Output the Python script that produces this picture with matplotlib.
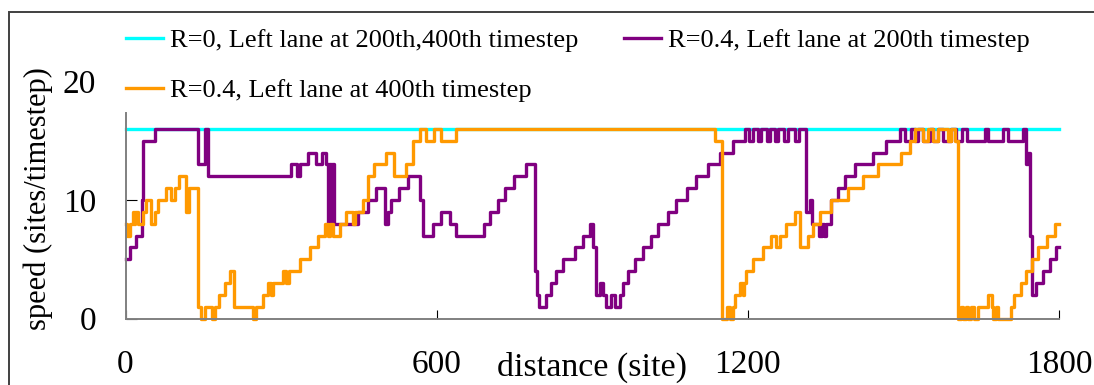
import matplotlib
matplotlib.use("Agg")
import matplotlib.pyplot as plt
from matplotlib.patches import Rectangle

plt.rcParams["font.family"] = ["Liberation Serif", "DejaVu Serif"]

# speed profiles along the road (site -> speed), step changes
cyan_x = [0, 1800]
cyan_v = [16, 16]

purple_x = [0, 8, 21, 32, 34, 56, 140, 154, 159, 320, 331, 336, 352, 368, 379,
            387, 390, 393, 396, 399, 402, 448, 467, 483, 500, 506, 512, 528, 545,
            567, 573, 593, 609, 625, 638, 692, 702, 718, 731, 750, 773, 789, 794,
            798, 811, 821, 830, 843, 866, 882, 895, 902, 908, 915, 921, 927, 937,
            943, 953, 960, 969, 982, 998, 1014, 1027, 1046, 1062, 1082, 1101, 1123,
            1146, 1172, 1194, 1203, 1210, 1219, 1226, 1236, 1243, 1252, 1259, 1270,
            1277, 1290, 1298, 1313, 1319, 1323, 1337, 1343, 1347, 1351, 1361, 1374,
            1387, 1406, 1441, 1467, 1493, 1503, 1515, 1522, 1528, 1538, 1551, 1557,
            1567, 1576, 1592, 1602, 1612, 1622, 1657, 1663, 1692, 1702, 1731, 1737,
            1740, 1744, 1748, 1756, 1769, 1782, 1795, 1800]
purple_v = [5, 6, 7, 10, 15, 16, 13, 16, 12, 13, 12, 13, 14, 13, 14,
            13, 8, 13, 8, 13, 8, 9, 10, 11, 8, 9, 10, 11, 12,
            10, 7, 8, 9, 8, 7, 8, 9, 10, 11, 12, 13, 4, 2,
            1, 2, 3, 4, 5, 6, 7, 8, 6, 2, 3, 2, 1, 2,
            1, 2, 3, 4, 5, 6, 7, 8, 9, 10, 11, 12, 13,
            14, 15, 16, 15, 16, 15, 16, 15, 16, 15, 16, 15,
            16, 15, 16, 9, 10, 8, 7, 8, 7, 8, 10, 11,
            12, 13, 14, 15, 16, 15, 16, 15, 16, 15, 16, 15,
            16, 15, 16, 15, 16, 15, 16, 15, 16, 15, 16, 13,
            14, 7, 2, 3, 4, 5, 6, 6]

orange_x = [0, 2, 8, 14, 16, 19, 24, 34, 40, 50, 56, 63, 79, 88, 95, 104, 117,
            122, 140, 146, 153, 166, 172, 181, 191, 201, 210, 246, 252, 265, 275,
            281, 284, 304, 310, 315, 336, 355, 371, 384, 390, 395, 400, 413, 426,
            439, 443, 458, 467, 480, 503, 518, 541, 554, 567, 580, 595, 608, 638,
            1136, 1150, 1159, 1165, 1171, 1175, 1184, 1190, 1192, 1197, 1210, 1229,
            1245, 1254, 1262, 1274, 1290, 1300, 1316, 1326, 1339, 1361, 1393, 1422,
            1451, 1496, 1512, 1522, 1538, 1547, 1557, 1567, 1586, 1592, 1599, 1605,
            1611, 1615, 1620, 1625, 1631, 1637, 1644, 1663, 1670, 1673, 1678, 1682,
            1708, 1714, 1727, 1737, 1747, 1760, 1776, 1792, 1800]
orange_v = [8, 7, 8, 9, 8, 9, 8, 9, 10, 8, 9, 10, 11, 10, 11, 12, 9,
            11, 1, 0, 1, 0, 1, 2, 3, 4, 1, 0, 1, 2, 3,
            2, 3, 4, 3, 4, 5, 6, 7, 8, 7, 8, 7, 8, 9,
            8, 9, 10, 12, 13, 14, 12, 13, 15, 16, 15, 16, 15, 16,
            15, 0, 1, 0, 1, 2, 3, 2, 3, 4, 5, 6,
            7, 6, 7, 8, 9, 6, 7, 8, 9, 10, 11, 12,
            13, 14, 15, 16, 15, 16, 15, 16, 15, 16, 15, 0,
            1, 0, 1, 0, 1, 0, 1, 2, 1, 0, 1, 0,
            1, 2, 3, 4, 5, 6, 7, 8, 8]

labels = ["R=0, Left lane at 200th,400th timestep",
          "R=0.4, Left lane at 200th timestep",
          "R=0.4, Left lane at 400th timestep"]

W, H = 1094, 385
fig = plt.figure(figsize=(W / 100, H / 100), dpi=100)

# outer chart border (runs off the right and bottom edges)
fig.patches.append(Rectangle((9 / W, -0.1), 1.2, 1 - 12 / H + 0.1,
                             transform=fig.transFigure, fill=False,
                             edgecolor="#404040", linewidth=1.4))

x0, x1 = 125.5, 1059
y0, y20 = 318.5, 81.5
ax = fig.add_axes([x0 / W, 1 - y0 / H, (x1 - x0) / W, (y0 - y20) / H])

kw = dict(drawstyle="steps-post", linewidth=2.4, clip_on=False)
l_c, = ax.plot(cyan_x, cyan_v, color="#00FFFF", **kw)
l_p, = ax.plot(purple_x, purple_v, color="#800080", **kw)
l_o, = ax.plot(orange_x, orange_v, color="#FF9900", **kw)

ax.set_xlim(0, 1800)
ax.set_ylim(0, 20)
ax.set_xticks([0, 600, 1200, 1800])
ax.set_yticks([0, 10, 20])

for side in ["top", "right"]:
    ax.spines[side].set_visible(False)
for side in ["left", "bottom"]:
    ax.spines[side].set_color("#808080")
    ax.spines[side].set_linewidth(1.4)
ax.spines["left"].set_bounds(0, 17.35)

ax.tick_params(axis="x", direction="in", length=6.5, width=0.8, color="black",
               labelsize=24, pad=22)
ax.tick_params(axis="y", direction="in", length=8, width=0.8, color="black",
               labelsize=24, pad=21)
ax.yaxis.get_major_ticks()[2].tick1line.set_visible(False)

ax.set_xlabel("distance (site)", fontsize=24.5)
ax.xaxis.set_label_coords(0.4992, -0.205)
ax.xaxis.label.set_verticalalignment("center")
ax.set_ylabel("speed (sites/timestep)", fontsize=22)
ax.yaxis.set_label_coords(-0.0937, 0.504)
ax.yaxis.label.set_verticalalignment("center")

fig.legend([l_c, l_o, l_p], [labels[0], labels[2], labels[1]], ncol=2,
           loc="upper left", bbox_to_anchor=(126 / W, 1 - 29 / H),
           frameon=False, fontsize=19, handlelength=1.4, handletextpad=0.25,
           columnspacing=1.75, labelspacing=1.0, borderaxespad=0, borderpad=0)

fig.savefig("out.png", dpi=100)
